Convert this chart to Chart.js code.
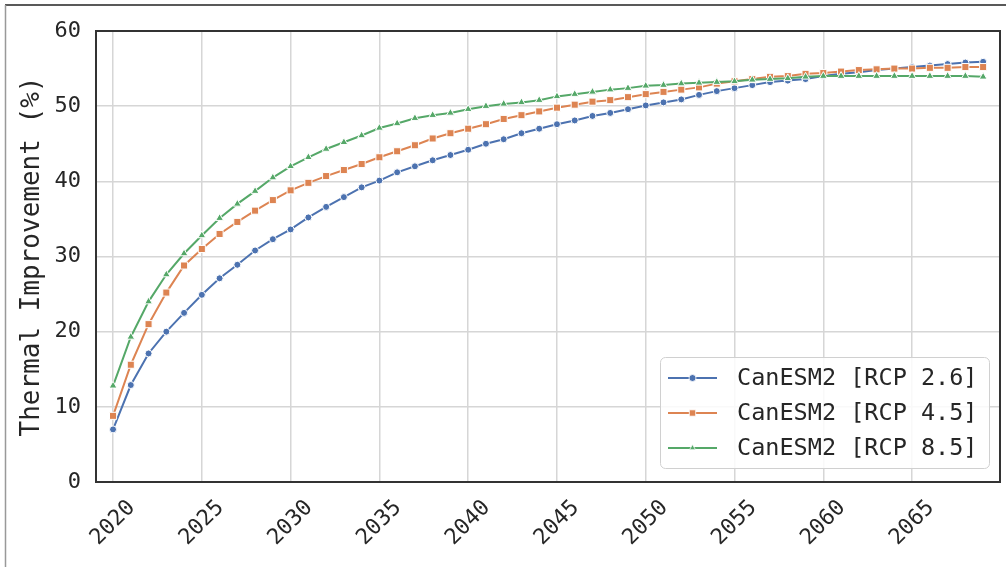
<!doctype html>
<html>

<head>
    <title>Thermal Improvement</title>
    <script src="https://cdn.jsdelivr.net/npm/chart.js"></script>
</head>

<style>
    body {
        margin: 0;
        background-color: #fff;
    }
</style>

<body>
    <canvas id="grafico" width="1006" height="567"></canvas>

    <script>
        var anos = [2020, 2021, 2022, 2023, 2024, 2025, 2026, 2027, 2028, 2029,
            2030, 2031, 2032, 2033, 2034, 2035, 2036, 2037, 2038, 2039,
            2040, 2041, 2042, 2043, 2044, 2045, 2046, 2047, 2048, 2049,
            2050, 2051, 2052, 2053, 2054, 2055, 2056, 2057, 2058, 2059,
            2060, 2061, 2062, 2063, 2064, 2065, 2066, 2067, 2068, 2069];

        var rcp26 = [7.0, 12.9, 17.1, 20.0, 22.5, 24.9, 27.1, 28.9, 30.8, 32.3,
            33.6, 35.2, 36.6, 37.9, 39.2, 40.1, 41.2, 42.0, 42.8, 43.5,
            44.2, 45.0, 45.6, 46.4, 47.0, 47.6, 48.1, 48.7, 49.1, 49.6,
            50.1, 50.5, 50.9, 51.5, 52.0, 52.4, 52.8, 53.2, 53.4, 53.6,
            54.0, 54.3, 54.5, 54.8, 55.0, 55.2, 55.4, 55.6, 55.8, 55.9];

        var rcp45 = [8.8, 15.6, 21.0, 25.2, 28.8, 31.0, 33.0, 34.6, 36.1, 37.5,
            38.8, 39.8, 40.7, 41.5, 42.3, 43.2, 44.0, 44.8, 45.7, 46.4,
            47.0, 47.6, 48.3, 48.8, 49.3, 49.8, 50.2, 50.6, 50.8, 51.2,
            51.6, 51.9, 52.2, 52.5, 53.0, 53.3, 53.6, 53.9, 54.0, 54.3,
            54.4, 54.6, 54.8, 54.9, 55.0, 55.0, 55.1, 55.1, 55.2, 55.2];

        var rcp85 = [12.8, 19.3, 24.0, 27.6, 30.4, 32.8, 35.1, 37.0, 38.7, 40.5,
            42.0, 43.2, 44.3, 45.2, 46.1, 47.1, 47.7, 48.4, 48.8, 49.1,
            49.6, 50.0, 50.3, 50.5, 50.8, 51.3, 51.6, 51.9, 52.2, 52.4,
            52.7, 52.8, 53.0, 53.1, 53.2, 53.3, 53.5, 53.6, 53.7, 53.9,
            54.0, 54.0, 54.0, 54.0, 54.0, 54.0, 54.0, 54.0, 54.0, 53.9];

        var rotulos = ['CanESM2 [RCP 2.6]', 'CanESM2 [RCP 4.5]', 'CanESM2 [RCP 8.5]'];
        var ticksX = [2020, 2025, 2030, 2035, 2040, 2045, 2050, 2055, 2060, 2065];

        var fonte = "'DejaVu Sans Mono', monospace";
        var corTexto = '#262626';

        function serie(valores) {
            return anos.map((ano, i) => ({ x: ano, y: valores[i] }));
        }

        function dataset(label, valores, cor, estilo, raio, ordem) {
            return {
                label: label,
                data: serie(valores),
                borderColor: cor,
                backgroundColor: cor,
                borderWidth: 2,
                pointStyle: estilo,
                pointRadius: raio,
                pointBorderColor: '#fff',
                pointBorderWidth: 1,
                tension: 0,
                order: ordem
            };
        }

        // moldura, eixos, rotulos rotacionados e legenda
        var extras = {
            id: 'extras',
            afterDraw(chart) {
                var ctx = chart.ctx;
                var area = chart.chartArea;
                ctx.save();

                // moldura da figura
                ctx.strokeStyle = '#222';
                ctx.lineWidth = 1.5;
                ctx.beginPath();
                ctx.moveTo(5, 5);
                ctx.lineTo(1006, 5);
                ctx.stroke();
                ctx.strokeStyle = '#999';
                ctx.beginPath();
                ctx.moveTo(5.5, 5);
                ctx.lineTo(5.5, 567);
                ctx.stroke();

                // caixa do grafico
                ctx.strokeStyle = '#333';
                ctx.lineWidth = 2;
                ctx.strokeRect(area.left, area.top, area.right - area.left, area.bottom - area.top);

                // rotulos do eixo x
                var escalaX = chart.scales.x;
                ctx.font = '22px ' + fonte;
                ctx.fillStyle = corTexto;
                ctx.textAlign = 'center';
                ctx.textBaseline = 'middle';
                ticksX.forEach((t) => {
                    var px = escalaX.getPixelForValue(t);
                    ctx.save();
                    ctx.translate(px, area.bottom + 41);
                    ctx.rotate(-Math.PI / 4);
                    ctx.fillText(String(t), 0, 0);
                    ctx.restore();
                });

                // legenda
                var lx = 660, ly = 357, lw = 329, lh = 111;
                ctx.fillStyle = 'rgba(255,255,255,0.85)';
                ctx.strokeStyle = '#d0d0d0';
                ctx.lineWidth = 1;
                ctx.beginPath();
                ctx.roundRect(lx + 0.5, ly + 0.5, lw, lh, 5);
                ctx.fill();
                ctx.stroke();

                ctx.font = '23.5px ' + fonte;
                ctx.textAlign = 'left';
                ctx.textBaseline = 'middle';
                chart.data.datasets.forEach((ds, i) => {
                    var cy = 378 + i * 35;
                    ctx.strokeStyle = ds.borderColor;
                    ctx.lineWidth = 2;
                    ctx.beginPath();
                    ctx.moveTo(668, cy);
                    ctx.lineTo(717, cy);
                    ctx.stroke();
                    ctx.fillStyle = ds.borderColor;
                    ctx.strokeStyle = '#fff';
                    ctx.lineWidth = 0.8;
                    Chart.helpers.drawPoint(ctx, {
                        pointStyle: ds.pointStyle,
                        radius: ds.pointStyle === 'rect' ? 4.5 : 3.5,
                        borderWidth: 0.8,
                        rotation: 0
                    }, 692.5, cy);
                    ctx.fillStyle = corTexto;
                    ctx.fillText(ds.label, 737, cy + 1);
                });

                ctx.restore();
            }
        };

        var grafico = new Chart(document.getElementById('grafico').getContext('2d'), {
            type: 'line',
            data: {
                datasets: [
                    dataset(rotulos[0], rcp26, '#4C72B0', 'circle', 3.5, 2),
                    dataset(rotulos[1], rcp45, '#DD8452', 'rect', 5, 1),
                    dataset(rotulos[2], rcp85, '#55A868', 'triangle', 4.5, 0)
                ]
            },
            options: {
                responsive: false,
                animation: false,
                layout: {
                    padding: { left: 0, right: 6, top: 31, bottom: 0 }
                },
                plugins: {
                    legend: { display: false },
                    tooltip: { enabled: false }
                },
                scales: {
                    x: {
                        type: 'linear',
                        min: 2019.04,
                        max: 2069.95,
                        afterBuildTicks: (escala) => {
                            escala.ticks = ticksX.map((v) => ({ value: v }));
                        },
                        afterFit: (escala) => {
                            escala.height = 85;
                        },
                        ticks: { display: false },
                        grid: { color: '#d6d6d6', lineWidth: 1.5, drawTicks: false },
                        border: { display: false }
                    },
                    y: {
                        min: 0,
                        max: 60,
                        afterFit: (escala) => {
                            escala.width = 96;
                        },
                        ticks: {
                            stepSize: 10,
                            padding: 15,
                            color: corTexto,
                            font: { family: fonte, size: 22 }
                        },
                        title: {
                            display: true,
                            text: 'Thermal Improvement (%)',
                            color: corTexto,
                            font: { family: fonte, size: 26 },
                            padding: { top: 17, bottom: 0 }
                        },
                        grid: { color: '#d6d6d6', lineWidth: 1.5, drawTicks: false },
                        border: { display: false }
                    }
                }
            },
            plugins: [extras]
        });
    </script>
</body>

</html>
